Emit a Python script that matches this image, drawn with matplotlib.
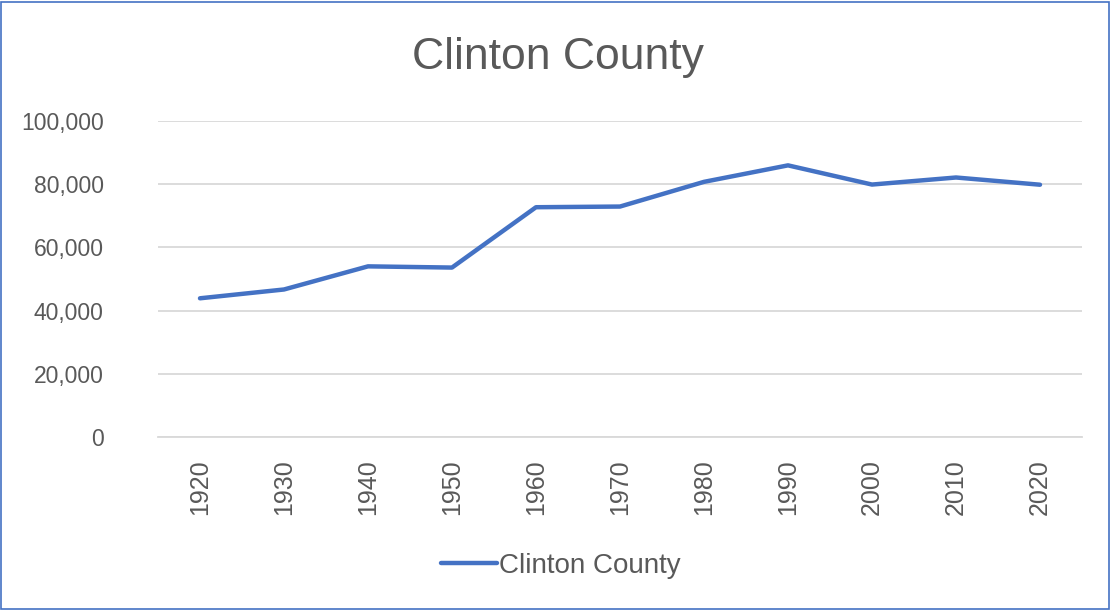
import matplotlib
matplotlib.use("Agg")
import matplotlib.pyplot as plt
from matplotlib.ticker import FuncFormatter
from matplotlib.patches import Rectangle

# ── data ──────────────────────────────────────────────────────────────────────
years = ["1920", "1930", "1940", "1950", "1960", "1970",
         "1980", "1990", "2000", "2010", "2020"]
population = [43898, 46687, 54006, 53622, 72722, 72934,
              80750, 85969, 79894, 82128, 79843]
series_name = "Clinton County"

# ── styling ───────────────────────────────────────────────────────────────────
LINE_COL = "#4472C4"
TEXT_COL = "#595959"
GRID_COL = "#D9D9D9"

plt.rcParams["font.family"] = ["Liberation Sans", "DejaVu Sans"]

fig = plt.figure(figsize=(11.11, 6.10), dpi=100)
ax = fig.add_axes([0.1422, 0.2836, 0.8317, 0.5180])

x = range(len(years))
line, = ax.plot(x, population, color=LINE_COL, linewidth=3.2,
                solid_capstyle="round", solid_joinstyle="round",
                label=series_name, zorder=3)

ax.set_xlim(-0.5, len(years) - 0.5)
ax.set_ylim(0, 100000)
ax.set_yticks(range(0, 100001, 20000))
ax.yaxis.set_major_formatter(FuncFormatter(lambda v, _: f"{int(v):,}"))
ax.set_xticks(list(x))
ax.set_xticklabels(years, rotation=90)

ax.grid(True, axis="y", color=GRID_COL, linewidth=1.3)
ax.set_axisbelow(True)
for s in ["top", "right", "left"]:
    ax.spines[s].set_visible(False)
ax.spines["bottom"].set_color(GRID_COL)
ax.spines["bottom"].set_linewidth(1.3)
ax.tick_params(axis="both", length=0, colors=TEXT_COL)
ax.tick_params(axis="y", labelsize=16.5, pad=39)
ax.tick_params(axis="x", labelsize=18, pad=16)

fig.text(0.502, 0.906, "Clinton County", ha="center", va="center",
         fontsize=32, color=TEXT_COL)

leg = fig.legend(handles=[line], loc="center", bbox_to_anchor=(0.505, 0.072),
                 frameon=False, fontsize=20, handlelength=2.0,
                 handletextpad=0.1, labelcolor=TEXT_COL)

# chart border
fig.patches.append(Rectangle((0.001, 0.002), 0.997, 0.995, transform=fig.transFigure,
                             fill=False, edgecolor=LINE_COL, linewidth=1.2))

fig.savefig("out.png", dpi=100, facecolor="white")
